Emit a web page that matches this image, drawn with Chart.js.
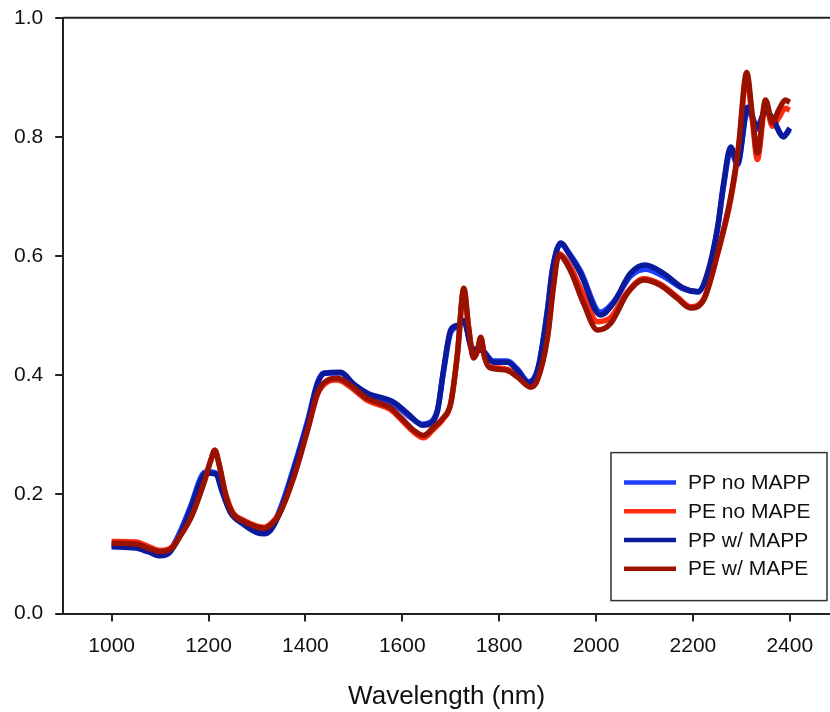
<!DOCTYPE html>
<html>
<head>
<meta charset="utf-8">
<script src="https://cdn.jsdelivr.net/npm/chart.js@4.4.1/dist/chart.umd.min.js"></script>
<style>
  html, body { margin: 0; padding: 0; background: #fff; }
  canvas { display: block; }
</style>
</head>
<body>
<canvas id="nirChart" width="830" height="712"></canvas>
<script>
// NIR spectra, values

// PP curves (wavelength in nm)
const ppWavelengths = [
  1000, 1050, 1075, 1100, 1120, 1140, 1163, 1185, 1195, 1215,
  1228, 1245, 1272, 1300, 1315, 1330, 1350, 1376, 1405, 1425,
  1438, 1473, 1500, 1528, 1582, 1611, 1642, 1660, 1673, 1685,
  1700, 1715, 1727, 1745, 1762, 1788, 1817, 1838, 1861, 1881,
  1900, 1910, 1927, 1947, 1968, 2009, 2036, 2071, 2102, 2139,
  2181, 2210, 2230, 2251, 2263, 2278, 2292, 2313, 2333, 2350,
  2366, 2387, 2400
];
const ppNoMapp = [
  0.114, 0.112, 0.106, 0.099, 0.106, 0.135, 0.180, 0.230, 0.238, 0.236,
  0.208, 0.172, 0.152, 0.139, 0.137, 0.145, 0.180, 0.245, 0.325, 0.388,
  0.404, 0.404, 0.383, 0.368, 0.352, 0.333, 0.318, 0.322, 0.343, 0.405,
  0.472, 0.482, 0.490, 0.445, 0.444, 0.424, 0.424, 0.410, 0.389, 0.415,
  0.512, 0.578, 0.620, 0.602, 0.575, 0.506, 0.523, 0.566, 0.578, 0.566,
  0.545, 0.540, 0.569, 0.646, 0.716, 0.778, 0.753, 0.846, 0.813, 0.842,
  0.826, 0.802, 0.812
];
const ppWithMapp = [
  0.112, 0.110, 0.104, 0.097, 0.103, 0.130, 0.175, 0.225, 0.236, 0.234,
  0.205, 0.170, 0.150, 0.136, 0.134, 0.142, 0.175, 0.240, 0.320, 0.385,
  0.403, 0.405, 0.385, 0.370, 0.355, 0.336, 0.316, 0.320, 0.341, 0.408,
  0.476, 0.484, 0.492, 0.442, 0.442, 0.422, 0.422, 0.408, 0.387, 0.413,
  0.509, 0.576, 0.622, 0.600, 0.571, 0.501, 0.521, 0.571, 0.585, 0.571,
  0.546, 0.540, 0.571, 0.649, 0.720, 0.783, 0.756, 0.850, 0.817, 0.845,
  0.829, 0.800, 0.815
];

// PE curves (wavelength in nm)
const peWavelengths = [
  1000, 1050, 1075, 1100, 1125, 1140, 1165, 1190, 1205, 1213,
  1222, 1235, 1250, 1272, 1300, 1315, 1330, 1345, 1376, 1405,
  1425, 1446, 1466, 1487, 1528, 1576, 1597, 1623, 1644, 1665,
  1685, 1700, 1714, 1727, 1737, 1747, 1755, 1762, 1770, 1780,
  1800, 1817, 1838, 1865, 1879, 1900, 1912, 1923, 1947, 1974,
  2003, 2030, 2065, 2098, 2133, 2168, 2195, 2222, 2251, 2278,
  2294, 2311, 2323, 2333, 2350, 2364, 2377, 2391, 2400
];
const peNoMape = [
  0.121, 0.120, 0.113, 0.106, 0.112, 0.130, 0.165, 0.220, 0.258, 0.274,
  0.250, 0.202, 0.170, 0.157, 0.147, 0.145, 0.152, 0.167, 0.230, 0.310,
  0.368, 0.389, 0.392, 0.384, 0.358, 0.342, 0.326, 0.305, 0.295, 0.310,
  0.327, 0.352, 0.436, 0.544, 0.480, 0.430, 0.441, 0.463, 0.431, 0.414,
  0.412, 0.410, 0.399, 0.383, 0.395, 0.468, 0.552, 0.604, 0.582, 0.535,
  0.490, 0.497, 0.540, 0.562, 0.553, 0.531, 0.515, 0.528, 0.604, 0.695,
  0.778, 0.900, 0.826, 0.762, 0.855, 0.818, 0.832, 0.848, 0.845
];
const peWithMape = [
  0.118, 0.117, 0.110, 0.104, 0.110, 0.128, 0.163, 0.218, 0.258, 0.274,
  0.250, 0.200, 0.168, 0.155, 0.145, 0.143, 0.150, 0.165, 0.229, 0.310,
  0.370, 0.392, 0.395, 0.387, 0.361, 0.345, 0.329, 0.308, 0.299, 0.313,
  0.329, 0.353, 0.437, 0.546, 0.480, 0.429, 0.440, 0.464, 0.430, 0.413,
  0.410, 0.408, 0.397, 0.380, 0.392, 0.464, 0.548, 0.602, 0.576, 0.521,
  0.476, 0.487, 0.538, 0.560, 0.551, 0.529, 0.513, 0.526, 0.605, 0.699,
  0.783, 0.908, 0.834, 0.773, 0.862, 0.824, 0.845, 0.862, 0.858
];

const seriesLabels = ['PP no MAPP', 'PE no MAPE', 'PP w/ MAPP', 'PE w/ MAPE'];
const xTicks = [1000, 1200, 1400, 1600, 1800, 2000, 2200, 2400];
const yTicks = [0, 0.2, 0.4, 0.6, 0.8, 1.0];

const FONT = 'Arial, "Liberation Sans", sans-serif';
const AXIS_COLOR = '#222';

function toPoints(xs, ys) {
  return xs.map((x, i) => ({ x: x, y: ys[i] }));
}

function makeSet(label, xs, ys, color, order) {
  return {
    label: label,
    data: toPoints(xs, ys),
    borderColor: color,
    backgroundColor: color,
    borderWidth: 5.5,
    pointRadius: 0,
    fill: false,
    cubicInterpolationMode: 'monotone',
    order: order
  };
}

// top frame line + boxed legend in the lower right corner
const frameAndLegend = {
  id: 'frameAndLegend',
  afterDraw(chart) {
    const ctx = chart.ctx;
    const area = chart.chartArea;
    ctx.save();
    ctx.strokeStyle = AXIS_COLOR;
    ctx.lineWidth = 2;
    ctx.beginPath();
    ctx.moveTo(area.left, area.top);
    ctx.lineTo(chart.width, area.top);
    ctx.stroke();

    const boxRight = area.right - 3;
    const boxBottom = area.bottom - 13;
    const boxW = 216, boxH = 148;
    const boxLeft = boxRight - boxW;
    const boxTop = boxBottom - boxH;
    ctx.fillStyle = '#fff';
    ctx.fillRect(boxLeft, boxTop, boxW, boxH);
    ctx.lineWidth = 1.5;
    ctx.strokeStyle = '#333';
    ctx.strokeRect(boxLeft, boxTop, boxW, boxH);

    ctx.font = '21px ' + FONT;
    ctx.textBaseline = 'middle';
    ctx.textAlign = 'left';
    seriesLabels.forEach((label, i) => {
      const ds = chart.data.datasets.find(d => d.label === label);
      const y = boxTop + 30 + i * 28.7;
      ctx.strokeStyle = ds.borderColor;
      ctx.lineWidth = 4.5;
      ctx.beginPath();
      ctx.moveTo(boxLeft + 13, y);
      ctx.lineTo(boxLeft + 65, y);
      ctx.stroke();
      ctx.fillStyle = '#111';
      ctx.fillText(label, boxLeft + 77, y + 1);
    });
    ctx.restore();
  }
};

const ctx = document.getElementById('nirChart').getContext('2d');
const nirChart = new Chart(ctx, {
  type: 'line',
  data: {
    datasets: [
      makeSet(seriesLabels[0], ppWavelengths, ppNoMapp, '#1f40ff', 4),
      makeSet(seriesLabels[1], peWavelengths, peNoMape, '#ff2b0f', 3),
      makeSet(seriesLabels[2], ppWavelengths, ppWithMapp, '#0b1a9a', 2),
      makeSet(seriesLabels[3], peWavelengths, peWithMape, '#991200', 1)
    ]
  },
  options: {
    responsive: false,
    animation: false,
    layout: { padding: { top: 0, right: 0, left: 2, bottom: 0 } },
    plugins: {
      legend: { display: false },
      tooltip: { enabled: false }
    },
    scales: {
      x: {
        type: 'linear',
        min: 900,
        max: 2483,
        afterBuildTicks: axis => { axis.ticks = xTicks.map(v => ({ value: v })); },
        grid: {
          drawOnChartArea: false,
          drawTicks: true,
          tickLength: 8,
          lineWidth: 2,
          color: AXIS_COLOR
        },
        border: { display: true, color: AXIS_COLOR, width: 2 },
        ticks: {
          padding: 12,
          color: '#111',
          font: { family: FONT, size: 21 },
          maxRotation: 0,
          callback: v => String(v)
        },
        title: {
          display: true,
          text: 'Wavelength (nm)',
          color: '#111',
          font: { family: FONT, size: 26 },
          padding: { top: 10, bottom: 0 }
        }
      },
      y: {
        type: 'linear',
        min: 0,
        max: 1,
        afterBuildTicks: axis => { axis.ticks = yTicks.map(v => ({ value: v })); },
        grid: {
          drawOnChartArea: false,
          drawTicks: true,
          tickLength: 8,
          lineWidth: 2,
          color: AXIS_COLOR
        },
        border: { display: true, color: AXIS_COLOR, width: 2 },
        ticks: {
          padding: 12,
          color: '#111',
          font: { family: FONT, size: 21, lineHeight: 0.55 },
          callback: v => Number(v).toFixed(1)
        }
      }
    }
  },
  plugins: [frameAndLegend]
});
</script>
</body>
</html>
